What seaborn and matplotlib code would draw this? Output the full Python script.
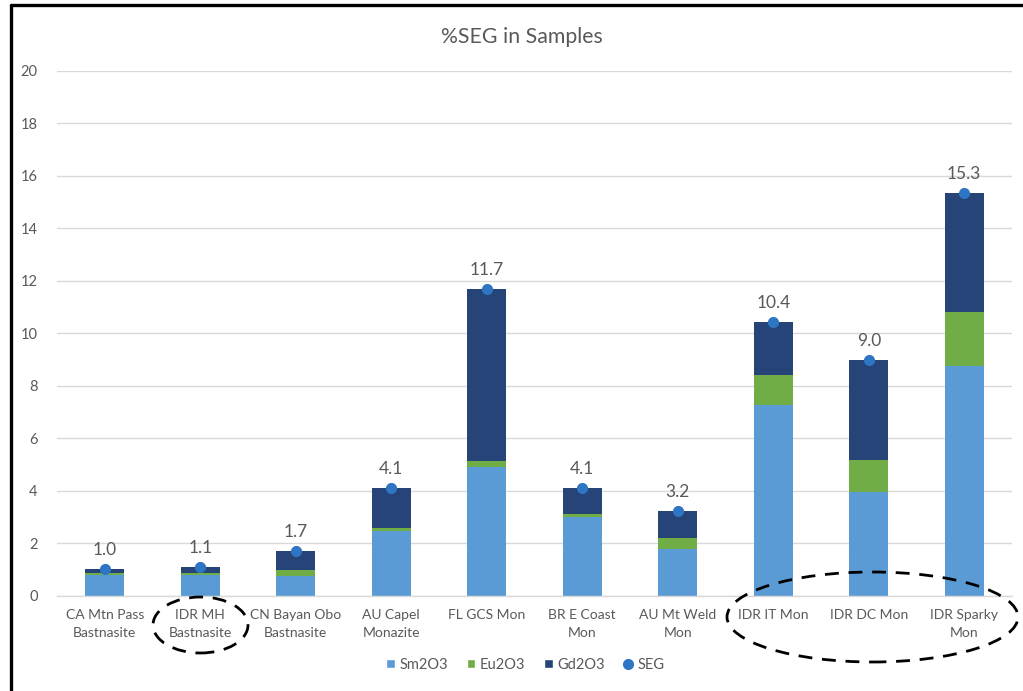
import matplotlib
matplotlib.use("Agg")
import matplotlib.pyplot as plt
from matplotlib.patches import Ellipse, Patch
from matplotlib.lines import Line2D
import seaborn as sns
import pandas as pd

samples = [
    "CA Mtn Pass\nBastnasite", "IDR MH\nBastnasite", "CN Bayan Obo\nBastnasite",
    "AU Capel\nMonazite", "FL GCS Mon", "BR E Coast\nMon", "AU Mt Weld\nMon",
    "IDR IT Mon", "IDR DC Mon", "IDR Sparky\nMon",
]
sm2o3 = [0.78, 0.77, 0.76, 2.47, 4.91, 3.00, 1.79, 7.25, 3.96, 8.76]
eu2o3 = [0.09, 0.10, 0.21, 0.12, 0.21, 0.11, 0.40, 1.17, 1.20, 2.05]
gd2o3 = [0.13, 0.21, 0.74, 1.50, 6.58, 0.98, 1.02, 2.00, 3.81, 4.53]
seg = [1.00, 1.08, 1.71, 4.09, 11.70, 4.09, 3.21, 10.42, 8.97, 15.34]
y_ticks = [0, 2, 4, 6, 8, 10, 12, 14, 16, 18, 20]

C_SM = "#5B9BD5"
C_EU = "#70AD47"
C_GD = "#264478"
C_SEG = "#2E75C4"
TXT = "#595959"
GRID = "#D9D9D9"

sns.set_theme(style="white")
plt.rcParams["font.family"] = ["Lato", "DejaVu Sans"]

df = pd.DataFrame({"sample": samples, "Sm2O3": sm2o3, "Eu2O3": eu2o3,
                   "Gd2O3": gd2o3, "SEG": seg})
df["eu_base"] = df["Sm2O3"]
df["gd_base"] = df["Sm2O3"] + df["Eu2O3"]

fig = plt.figure(figsize=(10.23, 6.91), dpi=100)
ax = fig.add_axes([57 / 1023, 1 - 595.5 / 691, (1012 - 57) / 1023, (595.5 - 71) / 691])

bw = 0.41
sns.barplot(data=df, x="sample", y="Sm2O3", color=C_SM, width=bw, ax=ax,
            saturation=1, linewidth=0)
sns.barplot(data=df, x="sample", y="Eu2O3", bottom=df["eu_base"], color=C_EU,
            width=bw, ax=ax, saturation=1, linewidth=0)
sns.barplot(data=df, x="sample", y="Gd2O3", bottom=df["gd_base"], color=C_GD,
            width=bw, ax=ax, saturation=1, linewidth=0)
sns.pointplot(data=df, x="sample", y="SEG", color=C_SEG, linestyle="none",
              markers="o", markersize=6, errorbar=None, ax=ax)

for i, v in enumerate(seg):
    ax.annotate(f"{v:.1f}", (i, v), xytext=(0, 8), textcoords="offset points",
                ha="center", va="bottom", fontsize=12.5, color=TXT)

ax.set_ylim(0, 20)
ax.set_xlim(-0.5, len(samples) - 0.5)
ax.set_yticks(y_ticks)
ax.yaxis.grid(True, color=GRID, linewidth=1)
ax.set_axisbelow(True)
for s in ["top", "right", "left"]:
    ax.spines[s].set_visible(False)
ax.spines["bottom"].set_color(GRID)
ax.spines["bottom"].set_linewidth(1)
ax.tick_params(axis="y", length=0, pad=14, labelsize=10.5, labelcolor=TXT)
ax.tick_params(axis="x", length=0, pad=10, labelsize=10, labelcolor=TXT)
for lbl in ax.get_xticklabels():
    lbl.set_linespacing(1.55)
ax.set_xlabel("")
ax.set_ylabel("")

fig.text(522 / 1023, 1 - 37 / 691, "%SEG in Samples", ha="center", va="center",
         fontsize=15.3, color=TXT)

handles = [
    Patch(facecolor=C_SM, label="Sm2O3"),
    Patch(facecolor=C_EU, label="Eu2O3"),
    Patch(facecolor=C_GD, label="Gd2O3"),
    Line2D([], [], marker="o", linestyle="none", color=C_SEG, markersize=7, label="SEG"),
]
leg = fig.legend(handles=handles, loc="center", bbox_to_anchor=(525 / 1023, 1 - 665 / 691),
                 ncol=4, frameon=False, fontsize=10.5, handlelength=0.6, handleheight=0.6,
                 handletextpad=0.3, columnspacing=1.3)
for t in leg.get_texts():
    t.set_color(TXT)

# highlight rings around selected samples
for cx, cy, w, h in [(200.5, 625, 95, 56), (872.5, 617, 291, 90)]:
    fig.add_artist(Ellipse((cx / 1023, 1 - cy / 691), w / 1023, h / 691,
                           transform=fig.transFigure, fill=False, edgecolor="black",
                           linewidth=2, linestyle=(0, (5, 3.5))))

# frame edges
fig.add_artist(Line2D([11 / 1023, 11 / 1023], [0, 1 - 5 / 691], transform=fig.transFigure,
                      color="black", linewidth=2.4))
fig.add_artist(Line2D([11 / 1023, 1], [1 - 5 / 691, 1 - 5 / 691], transform=fig.transFigure,
                      color="black", linewidth=2.4))

fig.savefig("out.png", dpi=100)
